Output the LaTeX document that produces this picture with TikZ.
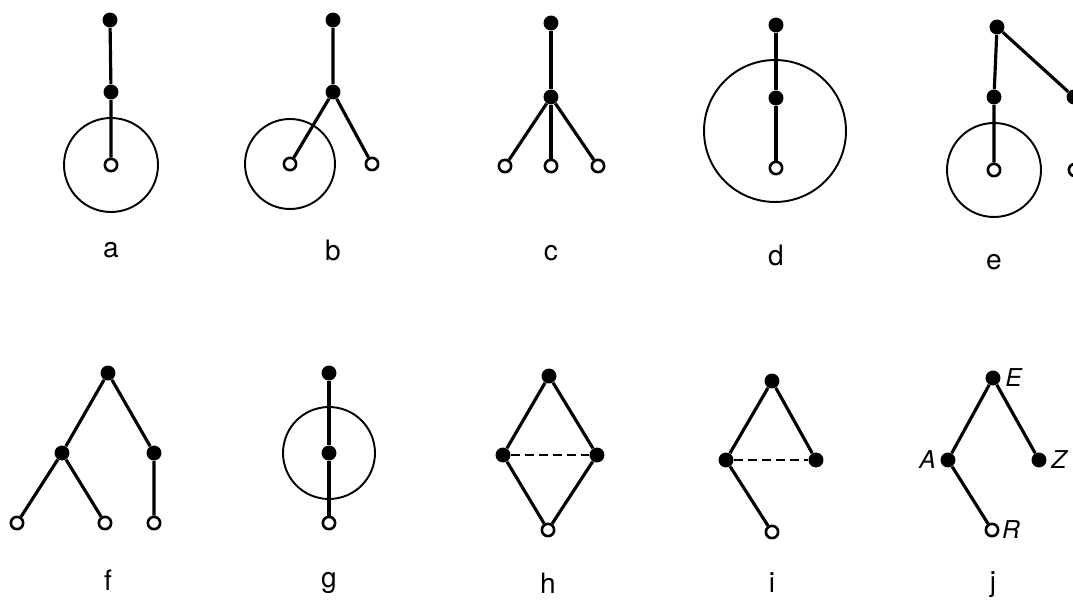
\documentclass[tikz,border=0pt]{standalone}
\usepackage{fontspec}
\setmainfont{TeX Gyre Heros}
\usetikzlibrary{positioning}

\begin{document}
\begin{tikzpicture}[x=0.02cm, y=-0.02cm,
  fd/.style={circle, fill=black, inner sep=0pt, minimum size=8.5pt},
  od/.style={circle, draw=black, fill=white, line width=1.5pt, inner sep=0pt, minimum size=7pt},
  edge/.style={line width=1.8pt},
  ring/.style={line width=1.1pt},
  tag/.style={font=\fontsize{16}{18}\selectfont},
  vlbl/.style={font=\fontsize{14}{16}\selectfont\itshape}]
  \useasboundingbox (0,0) rectangle (1073,601);
  \clip (0,0) rectangle (1073,601);
  % a
  \node[fd] (a1) at (110,20) {};
  \node[fd] (a2) at (111,92) {};
  \node[od] (a3) at (111,165) {};
  \draw[edge] (a1) -- (a2) -- (a3);
  \draw[ring] (a3) circle[radius=0.94cm];
  \node[tag] (la) at (111,250) {a};
  % b
  \node[fd] (b1) at (333,20) {};
  \node[fd] (b2) at (333,92) {};
  \node[od] (b3) at (290,164) {};
  \node[od] (b4) at (372,164) {};
  \draw[edge] (b1) -- (b2) -- (b3) (b2) -- (b4);
  \draw[ring] (b3) circle[radius=0.9cm];
  \node[tag] (lb) at (333,250) {b};
  % c
  \node[fd] (c1) at (551,23) {};
  \node[fd] (c2) at (551,97) {};
  \foreach \n/\x in {3/505,4/551,5/598}{
    \node[od] (c\n) at (\x,166) {};
    \draw[edge] (c2) -- (c\n);}
  \draw[edge] (c1) -- (c2);
  \node[tag] (lc) at (551,253) {c};
  % d
  \node[fd] (d1) at (776,25) {};
  \node[fd] (d2) at (776,98) {};
  \node[od] (d3) at (776,168) {};
  \coordinate (d0) at (775,131);
  \draw[edge] (d1) -- (d2) -- (d3);
  \draw[ring] (d0) circle[radius=1.42cm];
  \node[tag] (ld) at (776,255) {d};
  % e
  \node[fd] (e1) at (997,27) {};
  \node[fd] (e2) at (994,97) {};
  \node[od] (e3) at (994,170) {};
  \node[fd] (e4) at (1074,97) {};
  \node[od] (e5) at (1075,170) {};
  \draw[edge] (e1) -- (e2) -- (e3) (e1) -- (e4);
  \draw[ring] (e3) circle[radius=0.94cm];
  \node[tag] (le) at (994,262) {e};
  % f
  \node[fd] (f1) at (108,373) {};
  \node[fd] (f2) at (62,453) {};
  \node[fd] (f3) at (154,453) {};
  \node[od] (f4) at (17,523) {};
  \node[od] (f5) at (105,523) {};
  \node[od] (f6) at (154,523) {};
  \draw[edge] (f2) -- (f1) -- (f3) -- (f6) (f4) -- (f2) -- (f5);
  \node[tag] (lf) at (108,580) {f};
  % g
  \node[fd] (g1) at (329,373) {};
  \node[fd] (g2) at (329,453) {};
  \node[od] (g3) at (329,523) {};
  \draw[edge] (g1) -- (g2) -- (g3);
  \draw[ring] (g2) circle[radius=0.92cm];
  \node[tag] (lg) at (329,583) {g};
  % h
  \node[fd] (h1) at (549,376) {};
  \node[fd] (h2) at (503,455) {};
  \node[fd] (h3) at (597,455) {};
  \node[od] (h4) at (548,530) {};
  \draw[edge] (h2) -- (h1) -- (h3) -- (h4) -- (h2);
  \draw[edge, line width=1.4pt, dash pattern=on 5pt off 3pt] (h2) -- (h3);
  \node[tag] (lh) at (548,583) {h};
  % i
  \node[fd] (i1) at (772,381) {};
  \node[fd] (i2) at (726,460) {};
  \node[fd] (i3) at (816,460) {};
  \node[od] (i4) at (772,532) {};
  \draw[edge] (i4) -- (i2) -- (i1) -- (i3);
  \draw[edge, line width=1.4pt, dash pattern=on 5pt off 3pt] (i2) -- (i3);
  \node[tag] (li) at (772,583) {i};
  % j
  \node[fd] (jE) at (993,378) {};
  \node[fd] (jA) at (948,460) {};
  \node[fd] (jZ) at (1039,460) {};
  \node[od] (jR) at (992,530) {};
  \draw[edge] (jR) -- (jA) -- (jE) -- (jZ);
  \node[vlbl, right=-1pt of jE] (tE) {E};
  \node[vlbl, left=-1pt of jA] (tA) {A};
  \node[vlbl, right=-1pt of jZ] (tZ) {Z};
  \node[vlbl, right=-2pt of jR] (tR) {R};
  \node[tag] (lj) at (993,585) {j};
\end{tikzpicture}
\end{document}
